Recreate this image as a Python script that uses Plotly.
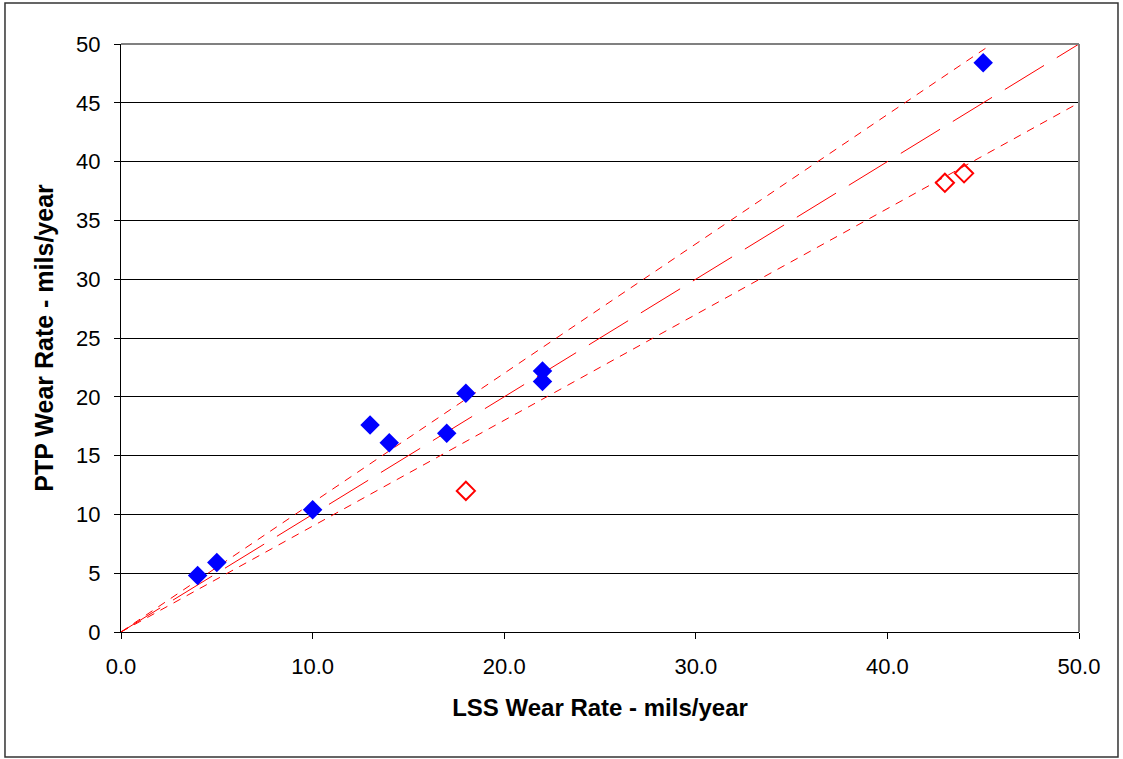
import plotly.graph_objects as go

# Data
blue_x = [4, 5, 10, 13, 14, 17, 18, 22, 22, 45]
blue_y = [4.8, 5.9, 10.4, 17.6, 16.1, 16.9, 20.3, 22.2, 21.3, 48.4]
red_x = [18, 43, 44]
red_y = [12.0, 38.2, 39.0]

ref_x = [0, 50]
ref_equal = [0, 50]
ref_upper = [0, 55]
ref_lower = [0, 45]

x_ticks = [0, 10, 20, 30, 40, 50]
y_ticks = [0, 5, 10, 15, 20, 25, 30, 35, 40, 45, 50]

fig = go.Figure()

fig.add_trace(go.Scatter(x=ref_x, y=ref_upper, mode="lines",
                         line=dict(color="#FF0000", width=1, dash="8px,7px"),
                         hoverinfo="skip", showlegend=False))
fig.add_trace(go.Scatter(x=ref_x, y=ref_lower, mode="lines",
                         line=dict(color="#FF0000", width=1, dash="8px,7px"),
                         hoverinfo="skip", showlegend=False))
fig.add_trace(go.Scatter(x=ref_x, y=ref_equal, mode="lines",
                         line=dict(color="#FF0000", width=1, dash="46px,15px"),
                         hoverinfo="skip", showlegend=False))

fig.add_trace(go.Scatter(x=blue_x, y=blue_y, mode="markers",
                         marker=dict(symbol="diamond", size=15, color="#0000FF",
                                     line=dict(width=0)),
                         showlegend=False))
fig.add_trace(go.Scatter(x=red_x, y=red_y, mode="markers",
                         marker=dict(symbol="diamond-open", size=14, color="#FF0000",
                                     line=dict(width=2, color="#FF0000")),
                         showlegend=False))

font_family = "Liberation Sans, Arial, sans-serif"

fig.update_layout(
    width=1123, height=759,
    margin=dict(l=121, r=44, t=44, b=127),
    paper_bgcolor="white", plot_bgcolor="white",
    font=dict(family=font_family, size=22, color="black"),
    xaxis=dict(range=[0, 50], tickvals=x_ticks, tickformat=".1f",
               showgrid=False, zeroline=False, showline=True,
               linecolor="black", linewidth=1, ticks="outside",
               ticklen=6, tickcolor="black", ticklabelstandoff=9,
               title=dict(text="<b>LSS Wear Rate - mils/year</b>",
                          font=dict(size=24), standoff=20),
               tickfont=dict(size=22)),
    yaxis=dict(range=[0, 50], tickvals=y_ticks,
               showgrid=True, gridcolor="black", gridwidth=1,
               zeroline=False, showline=True,
               linecolor="black", linewidth=1, ticks="outside",
               ticklen=6, tickcolor="black", ticklabelstandoff=9,
               title=dict(text="<b>PTP Wear Rate - mils/year</b>",
                          font=dict(size=25), standoff=15),
               tickfont=dict(size=22)),
    shapes=[
        dict(type="line", xref="paper", yref="paper", x0=0, x1=1, y0=1, y1=1,
             line=dict(color="#808080", width=2)),
        dict(type="line", xref="paper", yref="paper", x0=1, x1=1, y0=0, y1=1,
             line=dict(color="#808080", width=2)),
        dict(type="rect", xref="paper", yref="paper",
             x0=-0.1211, x1=1.0407, y0=-0.2126, y1=1.0697,
             line=dict(color="#333333", width=1.5)),
    ],
)

fig.write_html("out.html")
